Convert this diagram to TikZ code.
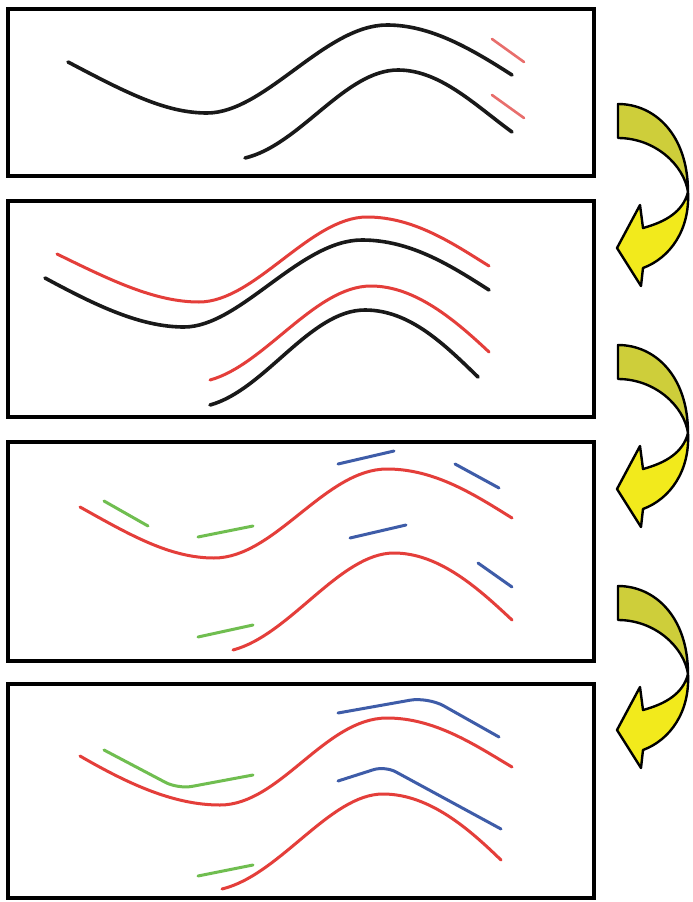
\documentclass[tikz,border=0pt]{standalone}
\begin{document}
\begin{tikzpicture}[x=1pt,y=-1pt,
  panel/.style={draw=black,line width=4.5pt},
  strandK/.style={draw=black!90,line width=3.6pt,line cap=round},
  strandR/.style={draw={rgb,255:red,228;green,62;blue,58},line width=3pt,line cap=round},
  primer/.style={draw={rgb,255:red,232;green,110;blue,108},line width=2.6pt,line cap=round},
  greenseg/.style={draw={rgb,255:red,112;green,190;blue,80},line width=3pt,line cap=round},
  blueseg/.style={draw={rgb,255:red,62;green,92;blue,168},line width=3pt,line cap=round},
  arrowtop/.style={fill={rgb,255:red,206;green,206;blue,58},draw=black,line width=2.4pt,line join=round},
  arrowbot/.style={fill={rgb,255:red,242;green,234;blue,28},draw=black,line width=2.4pt,line join=round}]
\useasboundingbox (0,0) rectangle (693,902);
\fill[white] (0,0) rectangle (693,902);

% frames of the four stages
\draw[panel] (8,9) rectangle (594,176);
\draw[panel] (8,201) rectangle (594,417);
\draw[panel] (8,442) rectangle (594,661);
\draw[panel] (8,684) rectangle (594,898);

% stage 1: template strands with short primers
\draw[strandK] (68,62) .. controls (125,92) and (165,113) .. (207,113)
  .. controls (265,113) and (325,25) .. (387,25)
  .. controls (430,25) and (470,48) .. (512,75);
\draw[strandK] (245,158) .. controls (300,145) and (345,70) .. (398,70)
  .. controls (440,70) and (475,105) .. (512,132);
\draw[primer] (492,39) -- (524,62);
\draw[primer] (492,95) -- (524,118);

% stage 2: complementary copies above the templates
\draw[strandR] (57,254) .. controls (110,280) and (155,302) .. (199,302)
  .. controls (255,302) and (310,217) .. (367,217)
  .. controls (415,217) and (455,245) .. (489,266);
\draw[strandK] (45,278) .. controls (95,305) and (140,327) .. (184,327)
  .. controls (240,327) and (300,240) .. (362,240)
  .. controls (410,240) and (450,265) .. (489,290);
\draw[strandR] (210,380) .. controls (265,365) and (315,286) .. (371,286)
  .. controls (415,286) and (455,320) .. (489,352);
\draw[strandK] (210,405) .. controls (265,390) and (310,310) .. (365,310)
  .. controls (410,310) and (445,345) .. (478,377);

% stage 3: copies with short probes
\draw[strandR] (80,507) .. controls (130,535) and (170,558) .. (214,558)
  .. controls (275,558) and (325,469) .. (387,469)
  .. controls (435,469) and (475,495) .. (512,518);
\draw[strandR] (233,650) .. controls (290,635) and (340,553) .. (394,553)
  .. controls (440,553) and (480,590) .. (512,620);
\draw[greenseg] (104,501) -- (148,526);
\draw[greenseg] (198,537) -- (253,526);
\draw[greenseg] (198,637) -- (253,625);
\draw[blueseg] (338,464) -- (394,451);
\draw[blueseg] (455,464) -- (499,488);
\draw[blueseg] (350,538) -- (406,525);
\draw[blueseg] (478,563) -- (512,587);

% stage 4: probes joined along the copies
\draw[strandR] (80,756) .. controls (130,785) and (175,805) .. (220,805)
  .. controls (280,805) and (325,718) .. (387,718)
  .. controls (435,718) and (475,745) .. (512,767);
\draw[strandR] (222,889) .. controls (280,875) and (330,794) .. (383,794)
  .. controls (430,794) and (470,830) .. (501,860);
\draw[greenseg,rounded corners=14pt] (104,750) -- (178,789) -- (253,775);
\draw[greenseg] (198,876) -- (253,865);
\draw[blueseg,rounded corners=18pt] (338,713) -- (428,697) -- (499,737);
\draw[blueseg,rounded corners=12pt] (338,781) -- (385,766) -- (501,829);

% curved arrows between the stages
\foreach \dy in {0,241,482}{
  \begin{scope}[shift={(0,\dy)}]
    \filldraw[arrowtop] (618,104) .. controls (655,104) and (688,135) .. (688,192)
      .. controls (684,165) and (655,138) .. (618,138) -- cycle;
    \filldraw[arrowbot] (688,192) .. controls (690,230) and (670,258) .. (643,268)
      -- (641,286) -- (617,248) -- (640,205) -- (643,228)
      .. controls (665,222) and (683,212) .. (688,192) -- cycle;
  \end{scope}
}
\end{tikzpicture}
\end{document}
